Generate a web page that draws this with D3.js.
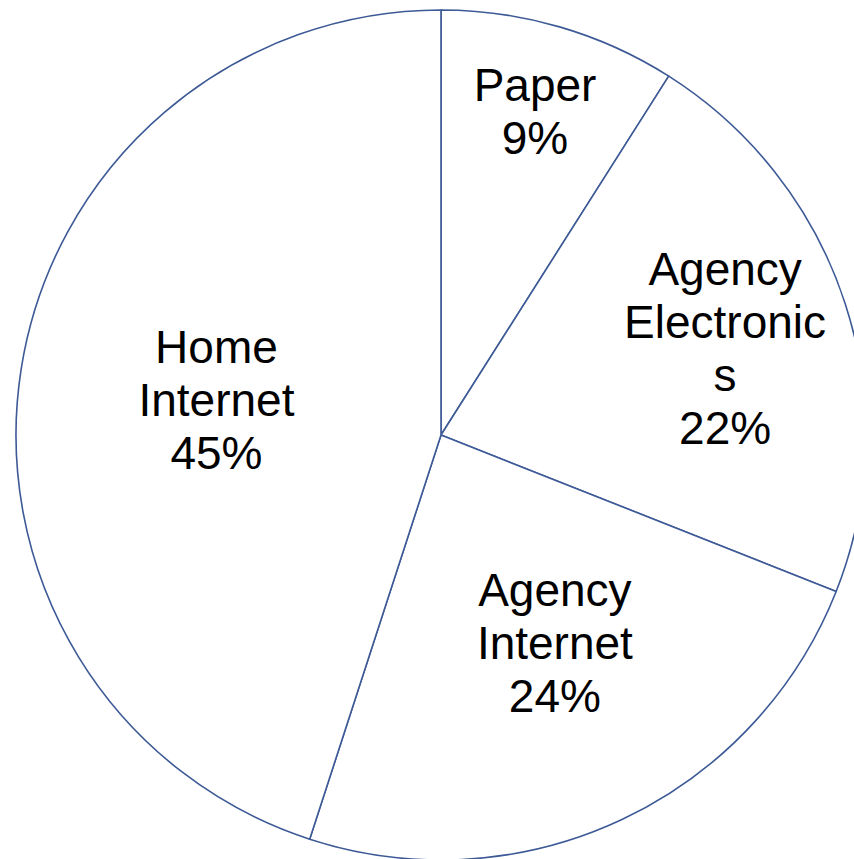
<!DOCTYPE html>
<html>
<head>
<meta charset="utf-8">
<script src="https://cdn.jsdelivr.net/npm/d3@7"></script>
<style>
  body { margin: 0; background: #fff; }
  svg { display: block; }
</style>
</head>
<body>
<svg id="pie" width="854" height="859"></svg>
<script>
// slice data, in drawing order (clockwise from 12 o'clock)
var categories = ["Paper", "Agency Electronics", "Agency Internet", "Home Internet"];
var values = [9, 22, 24, 45];
// label lines as shown in the chart (Excel wrapped them)
var labelLines = [
  ["Paper", "9%"],
  ["Agency", "Electronic", "s", "22%"],
  ["Agency", "Internet", "24%"],
  ["Home", "Internet", "45%"]
];
// label placement: share of the radius, and a small turn (degrees) off the mid angle
var labelRadius = [0.793, 0.699, 0.558, 0.535];
var labelTurn = [0, 1, -3.5, 0];

var svg = d3.select("#pie"),
    cx = 441,
    cy = 435,
    radius = 425,
    lineHeight = 53;

var pie = d3.pie()
    .sort(null)
    .value(function(d) { return d; });

var arc = d3.arc()
    .innerRadius(0)
    .outerRadius(radius);

var g = svg.append("g")
    .attr("transform", "translate(" + cx + "," + cy + ")");

var slices = g.selectAll("g.slice")
  .data(pie(values))
  .enter().append("g")
    .attr("class", "slice");

slices.append("path")
    .attr("d", arc)
    .style("fill", "#ffffff")
    .style("stroke", "#3d5a96")
    .style("stroke-width", 1.6)
    .style("stroke-linejoin", "round");

slices.each(function(d, i) {
  var mid = (d.startAngle + d.endAngle) / 2 + labelTurn[i] * Math.PI / 180,
      r = radius * labelRadius[i],
      x = r * Math.sin(mid),
      y = -r * Math.cos(mid),
      lines = labelLines[i];

  var text = d3.select(this).append("text")
      .attr("text-anchor", "middle")
      .style("font-family", "'Liberation Sans', Arial, sans-serif")
      .style("font-size", "46px")
      .style("fill", "#000");

  text.selectAll("tspan")
    .data(lines)
    .enter().append("tspan")
      .attr("x", x)
      .attr("y", function(t, j) { return y + (j - (lines.length - 1) / 2) * lineHeight; })
      .attr("dy", "0.35em")
      .text(function(t) { return t; });
});
</script>
</body>
</html>
